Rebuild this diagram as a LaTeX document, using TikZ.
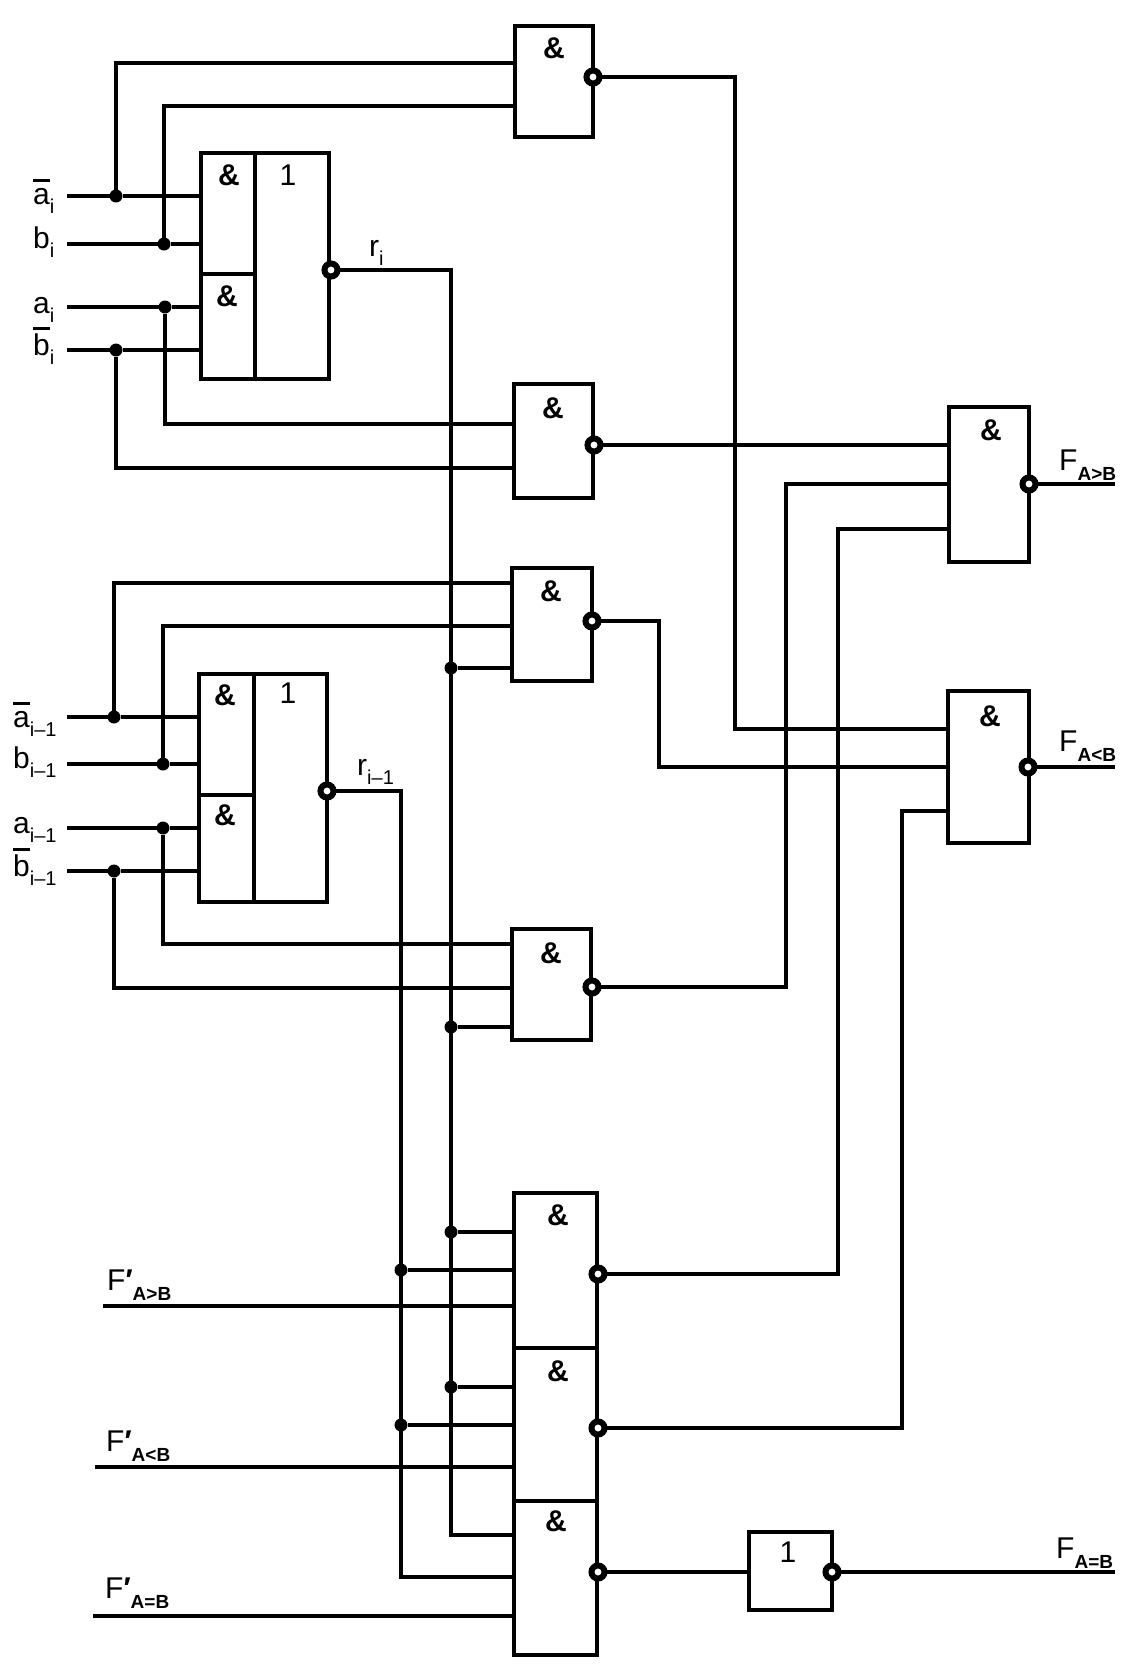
\documentclass[tikz,border=0pt]{standalone}
\usepackage{fontspec}
\setmainfont{Liberation Sans}
\newcommand{\lowidx}[1]{\raisebox{-9pt}{\fontsize{20}{20}\selectfont #1}}
\newcommand{\lowcap}[1]{\raisebox{-10pt}{\fontsize{19}{19}\selectfont\bfseries #1}}
\newcommand{\barred}[2]{\leavevmode\vbox{\hrule height 3pt\kern #1pt\hbox{#2}}}
\newcommand{\prm}{{\bfseries\char"2032}}
\tikzstyle{gate} = [draw, line width=4.5, inner sep=0, outer sep=0, anchor=north west, fill=white]
\tikzstyle{wire} = [line width=4.5]
\tikzstyle{dot} = [circle, fill=black, inner sep=0, outer sep=0, minimum size=13]
\tikzstyle{bubble} = [circle, draw, fill=white, line width=6, inner sep=0, outer sep=0, minimum size=13]
\tikzstyle{sym} = [inner sep=0, font=\fontsize{30}{30}\selectfont\bfseries]
\tikzstyle{one} = [inner sep=0, font=\fontsize{30}{30}\selectfont]
\tikzstyle{sig} = [inner sep=0, anchor=base west, font=\fontsize{30}{32}\selectfont]

\begin{document}
\begin{tikzpicture}[x=1pt, y=-1pt]
    \useasboundingbox (0,0) rectangle (1147,1673);

    \node[gate, minimum width=78, minimum height=111] (g1) at (515,26) {};
    \node[gate, minimum width=79, minimum height=114] (g2) at (514,384) {};
    \node[gate, minimum width=80, minimum height=113] (g3) at (512,568) {};
    \node[gate, minimum width=79, minimum height=111] (g4) at (512,929) {};
    \node[gate, minimum width=80, minimum height=155] (f1) at (949,407) {};
    \node[gate, minimum width=81, minimum height=152] (f2) at (948,691) {};
    \node[gate, minimum width=83, minimum height=78] (n1) at (749,1532) {};

    \node[gate, minimum width=74, minimum height=226] (c1c) at (255,153) {};
    \node[gate, minimum width=54, minimum height=121] (c1a) at (201,153) {};
    \node[gate, minimum width=54, minimum height=105] (c1b) at (201,274) {};
    \node[gate, minimum width=73, minimum height=228] (c2c) at (254,674) {};
    \node[gate, minimum width=55, minimum height=121] (c2a) at (199,674) {};
    \node[gate, minimum width=55, minimum height=107] (c2b) at (199,795) {};

    \node[gate, minimum width=83, minimum height=155] (s1) at (514,1193) {};
    \node[gate, minimum width=83, minimum height=153] (s2) at (514,1348) {};
    \node[gate, minimum width=83, minimum height=154] (s3) at (514,1501) {};

    \node[sym] (g1s) at (554,48) {\&};
    \node[sym] (g2s) at (553,408) {\&};
    \node[sym] (g3s) at (551,591) {\&};
    \node[sym] (g4s) at (551,953) {\&};
    \node[sym] (f1s) at (991,430) {\&};
    \node[sym] (f2s) at (990,716) {\&};
    \node[one] (n1s) at (788,1552) {1};
    \node[sym] (c1as) at (229,175) {\&};
    \node[sym] (c1bs) at (227,296) {\&};
    \node[one] (c1cs) at (288,175) {1};
    \node[sym] (c2as) at (225,695) {\&};
    \node[sym] (c2bs) at (225,815) {\&};
    \node[one] (c2cs) at (288,693) {1};
    \node[sym] (s1s) at (558,1215) {\&};
    \node[sym] (s2s) at (558,1371) {\&};
    \node[sym] (s3s) at (556,1521) {\&};

    \node[bubble] (g1n) at (593,77) {};
    \node[bubble] (g2n) at (594,445) {};
    \node[bubble] (g3n) at (592,621) {};
    \node[bubble] (g4n) at (592,987) {};
    \node[bubble] (f1n) at (1029,484) {};
    \node[bubble] (f2n) at (1028,767) {};
    \node[bubble] (n1n) at (832,1572) {};
    \node[bubble] (c1n) at (331,270) {};
    \node[bubble] (c2n) at (327,791) {};
    \node[bubble] (s1n) at (598,1274) {};
    \node[bubble] (s2n) at (598,1428) {};
    \node[bubble] (s3n) at (598,1572) {};

    \node[dot] (d1a) at (116,196) {};
    \node[dot] (d1b) at (164,244) {};
    \node[dot] (d1c) at (165,307) {};
    \node[dot] (d1d) at (116,350) {};
    \node[dot] (d2a) at (114,717) {};
    \node[dot] (d2b) at (163,764) {};
    \node[dot] (d2c) at (163,828) {};
    \node[dot] (d2d) at (114,871) {};
    \node[dot] (r1a) at (451,668) {};
    \node[dot] (r1b) at (451,1027) {};
    \node[dot] (r1c) at (451,1232) {};
    \node[dot] (r1d) at (451,1387) {};
    \node[dot] (r2a) at (401,1270) {};
    \node[dot] (r2b) at (401,1425) {};

    \coordinate (in1a) at (67,196);
    \coordinate (in1b) at (67,244);
    \coordinate (in1c) at (67,307);
    \coordinate (in1d) at (67,350);
    \coordinate (in2a) at (67,717);
    \coordinate (in2b) at (67,764);
    \coordinate (in2c) at (67,828);
    \coordinate (in2d) at (67,871);
    \coordinate (ingt) at (103,1306);
    \coordinate (inlt) at (95,1467);
    \coordinate (ineq) at (93,1616);
    \coordinate (outgt) at (1115,484);
    \coordinate (outlt) at (1115,767);
    \coordinate (outeq) at (1115,1572);
    \coordinate (rjend) at (451,1535);
    \coordinate (riend) at (401,1577);
    \coordinate (up4) at (786,484);
    \coordinate (up5) at (838,529);
    \coordinate (dn1) at (735,729);
    \coordinate (dn3) at (659,767);
    \coordinate (up6) at (902,811);

    \draw[wire] (in1a) -- (d1a) -- (c1a.west |- d1a);
    \draw[wire] (in1b) -- (d1b) -- (c1a.west |- d1b);
    \draw[wire] (in1c) -- (d1c) -- (c1b.west |- d1c);
    \draw[wire] (in1d) -- (d1d) -- (c1b.west |- d1d);
    \draw[wire] (in2a) -- (d2a) -- (c2a.west |- d2a);
    \draw[wire] (in2b) -- (d2b) -- (c2a.west |- d2b);
    \draw[wire] (in2c) -- (d2c) -- (c2b.west |- d2c);
    \draw[wire] (in2d) -- (d2d) -- (c2b.west |- d2d);

    \draw[wire] (d1a) |- ([yshift=-37]g1.north west);
    \draw[wire] (d1b) |- ([yshift=-80]g1.north west);
    \draw[wire] (d1c) |- ([yshift=-40]g2.north west);
    \draw[wire] (d1d) |- ([yshift=-84]g2.north west);
    \draw[wire] (d2a) |- ([yshift=-15]g3.north west);
    \draw[wire] (d2b) |- ([yshift=-58]g3.north west);
    \draw[wire] (d2c) |- ([yshift=-15]g4.north west);
    \draw[wire] (d2d) |- ([yshift=-59]g4.north west);

    \draw[wire] (c1n) -| (rjend) -- (s3.west |- rjend);
    \draw[wire] (c2n) -| (riend) -- (s3.west |- riend);
    \draw[wire] (r1a) -- (g3.west |- r1a);
    \draw[wire] (r1b) -- (g4.west |- r1b);
    \draw[wire] (r1c) -- (s1.west |- r1c);
    \draw[wire] (r1d) -- (s2.west |- r1d);
    \draw[wire] (r2a) -- (s1.west |- r2a);
    \draw[wire] (r2b) -- (s2.west |- r2b);
    \draw[wire] (ingt) -- (s1.west |- ingt);
    \draw[wire] (inlt) -- (s2.west |- inlt);
    \draw[wire] (ineq) -- (s3.west |- ineq);

    \draw[wire] (g2n) -- (f1.west |- g2n);
    \draw[wire] (g4n) -| (up4) -- (f1.west |- up4);
    \draw[wire] (s1n) -| (up5) -- (f1.west |- up5);
    \draw[wire] (g1n) -| (dn1) -- (f2.west |- dn1);
    \draw[wire] (g3n) -| (dn3) -- (f2.west |- dn3);
    \draw[wire] (s2n) -| (up6) -- (f2.west |- up6);
    \draw[wire] (s3n) -- (n1.west |- s3n);

    \draw[wire] (n1n) -- (outeq);
    \draw[wire] (f1n) -- (outgt);
    \draw[wire] (f2n) -- (outlt);

    \node[sig] (l1a) at (33,204) {\barred{6}{a}\lowidx{i}};
    \node[sig] (l1b) at (33,248) {b\lowidx{i}};
    \node[sig] (l1c) at (33,313) {a\lowidx{i}};
    \node[sig] (l1d) at (33,355) {\barred{3}{b}\lowidx{i}};
    \node[sig] (l2a) at (13,727) {\barred{6}{a}\lowidx{i--1}};
    \node[sig] (l2b) at (13,768) {b\lowidx{i--1}};
    \node[sig] (l2c) at (13,833) {a\lowidx{i--1}};
    \node[sig] (l2d) at (13,876) {\barred{3}{b}\lowidx{i--1}};
    \node[sig] (lrj) at (369,256) {r\lowidx{i}};
    \node[sig] (lri) at (357,775) {r\lowidx{i--1}};
    \node[sig] (lpgt) at (107,1290) {F\prm\lowcap{A>B}};
    \node[sig] (lplt) at (106,1451) {F\prm\lowcap{A<B}};
    \node[sig] (lpeq) at (105,1598) {F\prm\lowcap{A=B}};
    \node[sig] (lfgt) at (1059,470) {F\lowcap{A>B}};
    \node[sig] (lflt) at (1059,751) {F\lowcap{A<B}};
    \node[sig] (lfeq) at (1056,1558) {F\lowcap{A=B}};
\end{tikzpicture}
\end{document}
